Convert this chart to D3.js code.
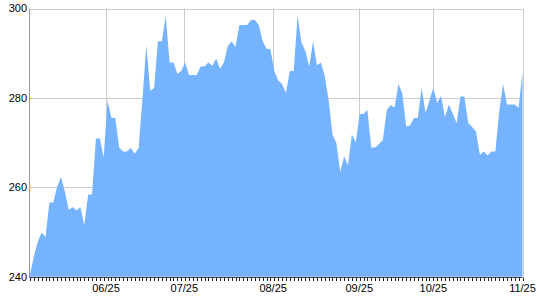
<!DOCTYPE html>
<html>
<head>
<meta charset="utf-8">
<script src="https://cdn.jsdelivr.net/npm/d3@7"></script>
<style>
  html, body { margin: 0; padding: 0; background: #fff; }
  svg { display: block; }
  text { font-family: Arial, "Liberation Sans", sans-serif; font-size: 11px; fill: #000; }
</style>
</head>
<body>
<svg id="chart" width="540" height="300"></svg>
<script>
// ---- data ----
const values = [
  240.6, 244.5, 247.8, 249.9, 248.9, 256.6, 256.6, 260.1, 262.3, 259.0,
  255.0, 255.6, 254.8, 255.6, 251.5, 258.4, 258.4, 270.9, 270.9, 266.7,
  279.4, 275.5, 275.5, 268.9, 268.0, 268.0, 268.8, 267.5, 268.8, 279.8,
  291.8, 281.6, 282.2, 292.7, 292.7, 298.4, 287.9, 287.9, 285.4, 286.0,
  287.9, 285.1, 285.1, 285.1, 287.0, 287.0, 287.9, 287.2, 288.8, 286.5,
  287.9, 291.6, 292.6, 291.4, 296.3, 296.3, 296.3, 297.4, 297.4, 296.3,
  292.7, 291.0, 290.9, 286.0, 283.9, 283.1, 281.1, 286.0, 286.0, 298.4,
  292.4, 290.5, 287.1, 292.6, 287.3, 287.9, 284.9, 279.6, 271.8, 269.9,
  263.5, 266.9, 265.0, 271.8, 270.1, 276.4, 276.4, 277.3, 268.9, 268.9,
  269.7, 270.6, 277.3, 278.4, 277.8, 283.1, 281.1, 273.6, 273.8, 275.5,
  275.5, 282.2, 276.6, 279.4, 282.2, 278.9, 280.4, 275.7, 278.5, 276.5,
  274.4, 280.3, 280.3, 274.4, 273.5, 272.5, 267.3, 268.0, 267.1, 268.0,
  268.0, 277.0, 283.1, 278.5, 278.5, 278.5, 277.8, 285.8
];
const xTickLabels = ["06/25", "07/25", "08/25", "09/25", "10/25", "11/25"];
const xTickIndex  = [19.6, 39.8, 62.7, 84.9, 104, 127];
const yTicks = [240, 260, 280, 300];
const yDomain = [240, 300];

// ---- layout ----
const pLeft = 30, pRight = 522.5, pTop = 8.5, pBottom = 276.7;
const svg = d3.select("#chart");

const x = d3.scaleLinear().domain([0, values.length - 1]).range([pLeft, pRight]);
const y = d3.scaleLinear().domain(yDomain).range([pBottom, pTop]);

// gridlines (behind area)
const grid = svg.append("g");
grid.selectAll("line.h").data(yTicks.filter(d => d > yDomain[0]))
  .join("line")
  .attr("x1", pLeft).attr("x2", pRight)
  .attr("y1", d => Math.round(y(d)) + 0.5).attr("y2", d => Math.round(y(d)) + 0.5)
  .attr("stroke", "#cccccc").attr("stroke-width", 1);
grid.selectAll("line.v").data(xTickIndex)
  .join("line")
  .attr("x1", d => Math.round(x(d)) + 0.5).attr("x2", d => Math.round(x(d)) + 0.5)
  .attr("y1", pTop).attr("y2", pBottom)
  .attr("stroke", "#cccccc").attr("stroke-width", 1);

// area
const area = d3.area()
  .x((d, i) => x(i))
  .y0(y(yDomain[0]))
  .y1(d => y(d));
svg.append("path")
  .datum(values)
  .attr("d", area)
  .attr("fill", "#76b3ff")
  .attr("stroke", "none");

// left axis line
svg.append("line")
  .attr("x1", pLeft - 0.5).attr("x2", pLeft - 0.5)
  .attr("y1", pTop).attr("y2", pBottom + 1)
  .attr("stroke", "#999999");

// bottom axis: minor ticks at each data point
const bx = svg.append("g").attr("transform", `translate(0,${Math.round(pBottom) + 0.5})`);
bx.append("line").attr("x1", pLeft - 0.5).attr("x2", pRight).attr("y1", 0).attr("y2", 0)
  .attr("stroke", "#444");
bx.selectAll("line.t").data(d3.range(values.length))
  .join("line")
  .attr("x1", d => Math.round(x(d)) + 0.5).attr("x2", d => Math.round(x(d)) + 0.5)
  .attr("y1", 0).attr("y2", 3.5)
  .attr("stroke", "#222");

// x labels
svg.selectAll("text.xl").data(xTickIndex)
  .join("text")
  .attr("x", d => x(d))
  .attr("y", 292)
  .attr("text-anchor", "middle")
  .text((d, i) => xTickLabels[i]);

// y labels
svg.selectAll("text.yl").data(yTicks)
  .join("text")
  .attr("x", 27)
  .attr("y", d => y(d))
  .attr("dy", "0.35em")
  .attr("text-anchor", "end")
  .text(d => d);
</script>
</body>
</html>
